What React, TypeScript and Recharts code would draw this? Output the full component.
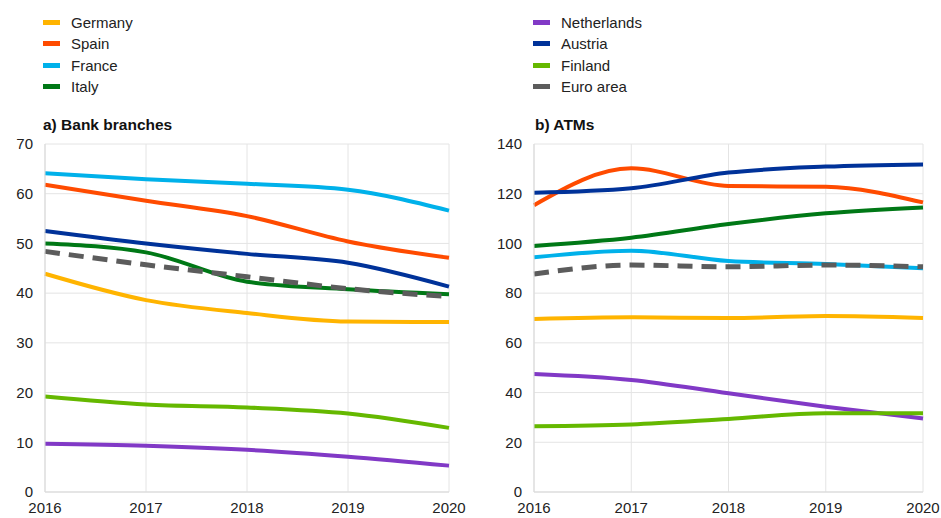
import React from 'react';
import { LineChart, Line, XAxis, YAxis, CartesianGrid } from 'recharts';

// --- Data ---

const years = ['2016', '2017', '2018', '2019', '2020'];

const countries = ['Germany', 'Spain', 'France', 'Italy', 'Netherlands', 'Austria', 'Finland', 'Euro area'];

const colors = ['#FFB400', '#FF4B00', '#00B1EA', '#007816', '#8139C6', '#003299', '#65B800', '#5C5C5C'];

// bank branches per 100,000 inhabitants
const branchesGermany = [43.9, 38.6, 36.0, 34.3, 34.2];
const branchesSpain = [61.8, 58.6, 55.5, 50.4, 47.1];
const branchesFrance = [64.1, 62.9, 62.0, 60.8, 56.6];
const branchesItaly = [50.0, 48.2, 42.3, 40.8, 39.8];
const branchesNetherlands = [9.7, 9.3, 8.5, 7.1, 5.3];
const branchesAustria = [52.5, 50.0, 47.9, 46.1, 41.3];
const branchesFinland = [19.2, 17.6, 17.0, 15.8, 12.9];
const branchesEuroArea = [48.4, 45.7, 43.3, 40.9, 39.3];

// ATMs per 100,000 inhabitants
const atmsGermany = [69.6, 70.3, 70.0, 70.8, 70.0];
const atmsSpain = [115.4, 130.2, 123.1, 122.8, 116.5];
const atmsFrance = [94.4, 97.1, 92.9, 91.7, 90.0];
const atmsItaly = [99.0, 102.3, 107.8, 112.1, 114.5];
const atmsNetherlands = [47.5, 45.1, 39.7, 34.3, 29.6];
const atmsAustria = [120.4, 122.2, 128.5, 130.9, 131.8];
const atmsFinland = [26.5, 27.2, 29.4, 31.7, 31.7];
const atmsEuroArea = [87.7, 91.3, 90.6, 91.3, 90.6];

const branchesTicks = [0, 10, 20, 30, 40, 50, 60, 70];
const atmsTicks = [0, 20, 40, 60, 80, 100, 120, 140];

const branchesSeries = [
    branchesGermany, branchesSpain, branchesFrance, branchesItaly,
    branchesNetherlands, branchesAustria, branchesFinland, branchesEuroArea,
];
const atmsSeries = [
    atmsGermany, atmsSpain, atmsFrance, atmsItaly,
    atmsNetherlands, atmsAustria, atmsFinland, atmsEuroArea,
];

const buildRows = (series: number[][]) =>
    years.map((year, i) => {
        const row: Record<string, string | number> = { year };
        countries.forEach((c, j) => {
            row[c] = series[j][i];
        });
        return row;
    });

const branchesData = buildRows(branchesSeries);
const atmsData = buildRows(atmsSeries);

const FONT = '"Liberation Sans", Arial, sans-serif';
const tickStyle = { fill: '#222', fontSize: 15, fontFamily: FONT };

// --- Components ---

interface PanelProps {
    data: Record<string, string | number>[];
    ticks: number[];
    width: number;
    yAxisWidth: number;
    rightMargin: number;
}

const Panel: React.FC<PanelProps> = ({ data, ticks, width, yAxisWidth, rightMargin }) => (
    <LineChart
        width={width}
        height={384}
        data={data}
        margin={{ top: 10, right: rightMargin, left: 0, bottom: 4 }}
    >
        <CartesianGrid stroke="#e4e4e4" strokeWidth={1} />
        <XAxis
            dataKey="year"
            axisLine={{ stroke: '#d9d9d9' }}
            tickLine={false}
            tick={tickStyle}
            height={22}
            interval={0}
            tickMargin={4}
        />
        <YAxis
            width={yAxisWidth}
            domain={[ticks[0], ticks[ticks.length - 1]]}
            ticks={ticks}
            axisLine={{ stroke: '#d9d9d9' }}
            tickLine={false}
            tick={tickStyle}
            tickMargin={6}
            interval={0}
        />
        {countries.map((c, i) => (
            <Line
                key={c}
                type="monotone"
                dataKey={c}
                stroke={colors[i]}
                strokeWidth={c === 'Euro area' ? 5 : 4}
                strokeDasharray={c === 'Euro area' ? '15 9' : undefined}
                dot={false}
                activeDot={false}
                isAnimationActive={false}
            />
        ))}
    </LineChart>
);

const LegendItem: React.FC<{ name: string; color: string; top: number; left: number }> = ({ name, color, top, left }) => (
    <div style={{ position: 'absolute', top, left, display: 'flex', alignItems: 'center', height: 18 }}>
        <div style={{ width: 17, height: 5, background: color, marginRight: 11 }} />
        <span style={{ fontFamily: FONT, fontSize: 15, color: '#222' }}>{name}</span>
    </div>
);

const titleStyle: React.CSSProperties = {
    position: 'absolute',
    top: 116,
    fontFamily: FONT,
    fontSize: 15.5,
    fontWeight: 'bold',
    color: '#111',
};

export default function App() {
    return (
        <div style={{ position: 'absolute', top: 0, left: 0, width: 941, height: 518, background: '#fff', overflow: 'hidden' }}>
            {countries.map((c, i) => (
                <LegendItem
                    key={c}
                    name={c}
                    color={colors[i]}
                    left={i < 4 ? 43 : 533}
                    top={13 + (i % 4) * 21.6}
                />
            ))}
            <div style={{ ...titleStyle, left: 43 }}>a) Bank branches</div>
            <div style={{ ...titleStyle, left: 535 }}>b) ATMs</div>
            <div style={{ position: 'absolute', top: 134, left: 0 }}>
                <Panel data={branchesData} ticks={branchesTicks} width={470} yAxisWidth={45} rightMargin={21} />
            </div>
            <div style={{ position: 'absolute', top: 134, left: 480 }}>
                <Panel data={atmsData} ticks={atmsTicks} width={461} yAxisWidth={54} rightMargin={18} />
            </div>
        </div>
    );
}
